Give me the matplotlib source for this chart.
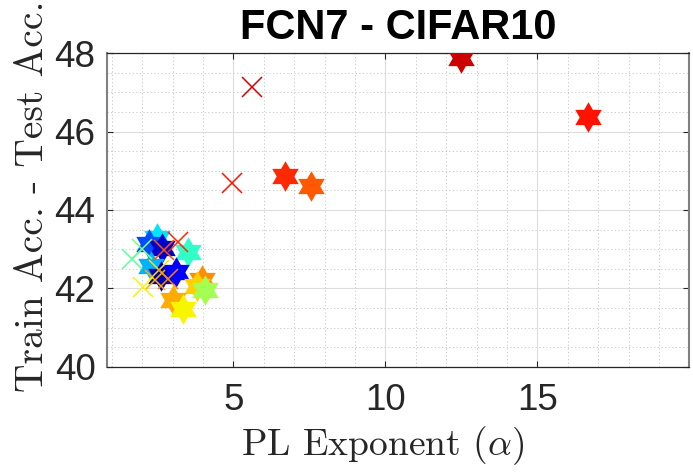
import numpy as np
import matplotlib
matplotlib.use("Agg")
import matplotlib.pyplot as plt
from matplotlib.path import Path
from matplotlib.ticker import MultipleLocator

plt.rcParams['mathtext.fontset'] = 'cm'

# ---- data ----
star_x = [12.49, 16.66, 6.70, 7.55, 2.50, 2.21, 3.50, 2.65, 2.28, 2.62, 3.10, 3.96, 3.80, 4.05, 3.02, 3.35]
star_y = [47.88, 46.38, 44.86, 44.61, 43.28, 43.13, 42.93, 43.02, 42.56, 42.32, 42.42, 42.20, 42.05, 41.96, 41.70, 41.48]
star_c = [0.93, 0.89, 0.865, 0.815, 0.35, 0.20, 0.41, 0.07, 0.30, 0.04, 0.11, 0.76, 0.69, 0.55, 0.73, 0.65]

cross_x = [5.60, 4.95, 3.19, 2.00, 1.66, 2.70, 2.54, 2.86, 2.42, 2.04]
cross_y = [47.14, 44.69, 43.19, 43.00, 42.74, 42.98, 42.47, 42.25, 42.21, 42.04]
cross_c = [0.92, 0.89, 0.87, 0.51, 0.46, 0.82, 0.67, 0.77, 0.73, 0.65]

title = "FCN7 - CIFAR10"
xlabel = r"PL Exponent ($\alpha$)"
ylabel = "Train Acc. - Test Acc."
xticks = [5, 10, 15]
yticks = [40, 42, 44, 46, 48]

# ---- hexagram marker shape ----
ang = np.pi / 2 + np.arange(12) * np.pi / 6
rad = np.where(np.arange(12) % 2 == 0, 1.0, 1.0 / np.sqrt(3))
verts = np.column_stack([rad * np.cos(ang), rad * np.sin(ang)])
verts = np.vstack([verts, verts[:1]])
codes = [Path.MOVETO] + [Path.LINETO] * 11 + [Path.CLOSEPOLY]
hexagram = Path(verts, codes)

cmap = plt.get_cmap('jet')

fig = plt.figure(figsize=(6.93, 4.75), dpi=100)
ax = fig.add_axes([0.154, 0.228, 0.8407, 0.660])

for x, y, c in zip(star_x, star_y, star_c):
    ax.plot(x, y, linestyle='none', marker=hexagram, markersize=22,
            markerfacecolor=cmap(c), markeredgewidth=0, zorder=3)
for x, y, c in zip(cross_x, cross_y, cross_c):
    ax.plot(x, y, linestyle='none', marker='x', markersize=14.5,
            markeredgecolor=cmap(c), markeredgewidth=1.1, zorder=4)

ax.set_xlim(0.83, 20)
ax.set_ylim(40, 48)
ax.set_xticks(xticks)
ax.set_yticks(yticks)
ax.xaxis.set_minor_locator(MultipleLocator(1))
ax.yaxis.set_minor_locator(MultipleLocator(0.5))

ax.grid(which='major', color='#dcdcdc', linewidth=0.8, linestyle='-')
ax.grid(which='minor', color='#c8c8c8', linewidth=0.7, linestyle=(0, (1.2, 2.5)))
ax.set_axisbelow(True)

ax.tick_params(which='major', direction='in', length=4.5, width=0.8,
               top=True, right=True, color='#262626',
               labelsize=26.5, labelcolor='#262626')
ax.tick_params(axis='x', which='major', pad=11.5)
ax.tick_params(axis='y', which='major', pad=8)
ax.tick_params(which='minor', length=0, top=True, right=True)
for lab in ax.get_xticklabels() + ax.get_yticklabels():
    lab.set_family('Liberation Sans')

for s in ['top', 'bottom']:
    ax.spines[s].set_color('#262626')
    ax.spines[s].set_linewidth(0.9)
for s in ['left', 'right']:
    ax.spines[s].set_color('#808080')
    ax.spines[s].set_linewidth(1.5)

ax.set_title(title, fontsize=30, fontweight='bold', family='Liberation Sans',
             color='black', pad=10)
ax.set_xlabel(xlabel, fontsize=27, family='cmr10', color='#262626', labelpad=5)
ax.set_ylabel(ylabel, fontsize=28.5, family='cmr10', color='#262626', labelpad=2.5)
ax.xaxis.label.set_x(0.474)
ax.yaxis.label.set_y(0.543)

fig.savefig('out.png', dpi=100)
